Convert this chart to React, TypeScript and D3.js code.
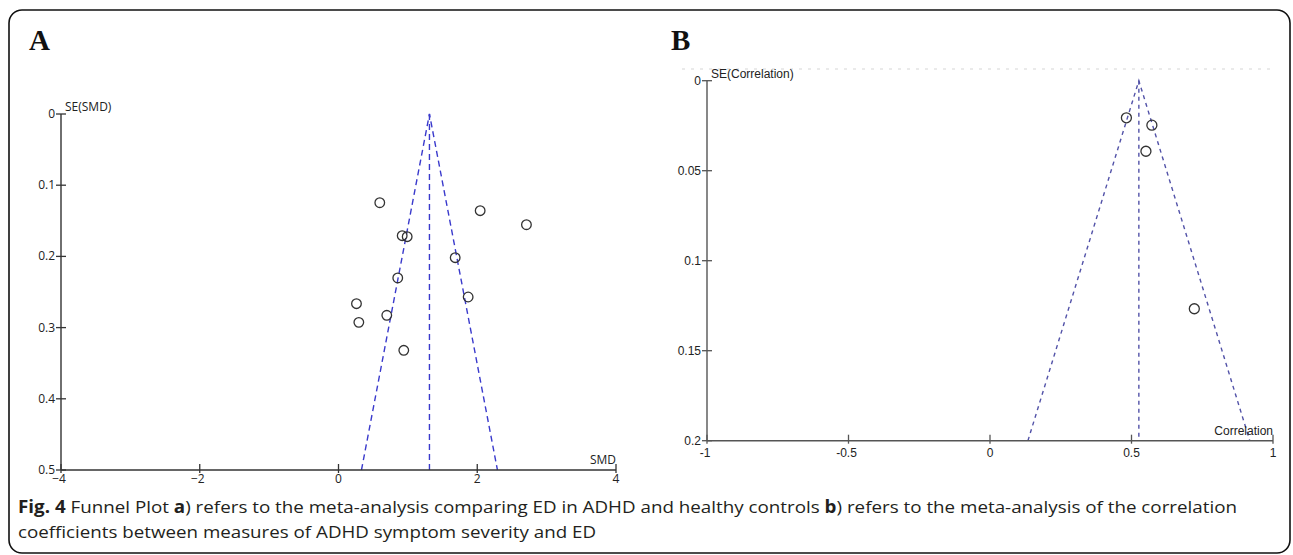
import * as d3 from "d3";

// Panel A: SMD funnel (ED in ADHD vs healthy controls)
const smdValues = [0.595, 2.042, 2.709, 0.918, 0.99, 1.682, 0.854, 1.869, 0.259, 0.696, 0.293, 0.941];
const smdSE = [0.1246, 0.1358, 0.1555, 0.1709, 0.1723, 0.2018, 0.2303, 0.257, 0.2664, 0.2827, 0.2926, 0.3319];
const smdPooled = 1.311;
const smdXTicks = [-4, -2, 0, 2, 4];
const smdYTicks = [0, 0.1, 0.2, 0.3, 0.4, 0.5];

// Panel B: correlation funnel
const corrValues = [0.482, 0.572, 0.551, 0.722];
const corrSE = [0.0206, 0.0247, 0.0392, 0.1267];
const corrPooled = 0.526;
const corrXTicks = [-1, -0.5, 0, 0.5, 1];
const corrYTicks = [0, 0.05, 0.1, 0.15, 0.2];

type PanelProps = {
  values: number[];
  se: number[];
  pooled: number;
  xTicks: number[];
  yTicks: number[];
  xDomain: [number, number];
  yMax: number;
  xRange: [number, number];
  yRange: [number, number];
  xLabel: string;
  yLabel: string;
  font: string;
  axisColor: string;
  funnelColor: string;
  dash: string;
  r: number;
  labelDy: number;
};

function FunnelPanel(p: PanelProps) {
  const x = d3.scaleLinear().domain(p.xDomain).range(p.xRange);
  const y = d3.scaleLinear().domain([0, p.yMax]).range(p.yRange);
  const x0 = p.xRange[0];
  const yb = p.yRange[1];
  const half = 1.96 * p.yMax;
  const line = d3.line<[number, number]>().x((d) => x(d[0])).y((d) => y(d[1]));
  const fmt = (v: number) => String(v);

  return (
    <g fontFamily={p.font} fontSize={12} fill="#222">
      {/* funnel */}
      <path
        d={line([[p.pooled - half, p.yMax], [p.pooled, 0], [p.pooled + half, p.yMax]]) || ""}
        fill="none"
        stroke={p.funnelColor}
        strokeWidth={1.4}
        strokeDasharray={p.dash}
      />
      <path
        d={line([[p.pooled, 0], [p.pooled, p.yMax]]) || ""}
        fill="none"
        stroke={p.funnelColor}
        strokeWidth={1.4}
        strokeDasharray={p.dash}
      />

      {/* axes */}
      <line x1={x0} x2={x0} y1={p.yRange[0]} y2={yb} stroke={p.axisColor} strokeWidth={1.4} />
      <line x1={x0} x2={p.xRange[1]} y1={yb} y2={yb} stroke={p.axisColor} strokeWidth={1.4} />
      {p.yTicks.map((t) => (
        <g key={"y" + t}>
          <line x1={x0 - 5} x2={x0 + 5} y1={y(t)} y2={y(t)} stroke={p.axisColor} strokeWidth={1.3} />
          <text x={x0 - 6} y={y(t) + 4} textAnchor="end">
            {fmt(t)}
          </text>
        </g>
      ))}
      {p.xTicks.map((t) => (
        <g key={"x" + t}>
          <line x1={x(t)} x2={x(t)} y1={yb - 6} y2={yb + 3} stroke={p.axisColor} strokeWidth={1.3} />
          <text x={x(t) + (t < 0 ? -2 : 0)} y={yb + p.labelDy} textAnchor="middle">
            {t < 0 && p.font.includes("Open") ? "\u2212" + fmt(-t) : fmt(t)}
          </text>
        </g>
      ))}
      <text x={x0 + 4} y={p.yRange[0] - 3}>
        {p.yLabel}
      </text>
      <text x={p.xRange[1]} y={yb - 6} textAnchor="end">
        {p.xLabel}
      </text>

      {/* studies */}
      {p.values.map((v, i) => (
        <circle key={i} cx={x(v)} cy={y(p.se[i])} r={p.r} fill="none" stroke="#333" strokeWidth={1.3} />
      ))}
    </g>
  );
}

export default function App() {
  return (
    <svg width={1293} height={555} style={{ position: "absolute", left: 0, top: 0 }}>
      <rect x={0} y={0} width={1293} height={555} fill="#fff" />
      <rect x={9} y={10} width={1281} height={543} rx={13} fill="none" stroke="#111" strokeWidth={1.6} />

      <text x={29} y={50} fontFamily="Liberation Serif" fontWeight="bold" fontSize={29} fill="#111">
        A
      </text>
      <text x={671} y={50} fontFamily="Liberation Serif" fontWeight="bold" fontSize={29} fill="#111">
        B
      </text>

      <line x1={682} x2={1273} y1={69} y2={69} stroke="#e4e4e4" strokeWidth={1.5} strokeDasharray="3,6" />

      <FunnelPanel
        values={smdValues}
        se={smdSE}
        pooled={smdPooled}
        xTicks={smdXTicks}
        yTicks={smdYTicks}
        xDomain={[-4, 4]}
        yMax={0.5}
        xRange={[61, 616]}
        yRange={[114, 470]}
        xLabel="SMD"
        yLabel="SE(SMD)"
        font="Open Sans"
        axisColor="#333"
        funnelColor="#3a3acc"
        dash="6,4"
        r={4.8}
        labelDy={13}
      />
      <FunnelPanel
        values={corrValues}
        se={corrSE}
        pooled={corrPooled}
        xTicks={corrXTicks}
        yTicks={corrYTicks}
        xDomain={[-1, 1]}
        yMax={0.2}
        xRange={[707, 1273]}
        yRange={[80.7, 440.7]}
        xLabel="Correlation"
        yLabel="SE(Correlation)"
        font="Liberation Sans"
        axisColor="#555"
        funnelColor="#5252a8"
        dash="4,4"
        r={5}
        labelDy={16}
      />

      <g fontFamily="Open Sans" fontSize={17} fill="#231f20">
        <text x={18} y={513} textLength={1219} lengthAdjust="spacingAndGlyphs">
          <tspan fontWeight="bold">Fig. 4</tspan> Funnel Plot <tspan fontWeight="bold">a</tspan>) refers to the
          meta-analysis comparing ED in ADHD and healthy controls <tspan fontWeight="bold">b</tspan>) refers to the
          meta-analysis of the correlation
        </text>
        <text x={18} y={538} textLength={578} lengthAdjust="spacingAndGlyphs">
          coefficients between measures of ADHD symptom severity and ED
        </text>
      </g>
    </svg>
  );
}
